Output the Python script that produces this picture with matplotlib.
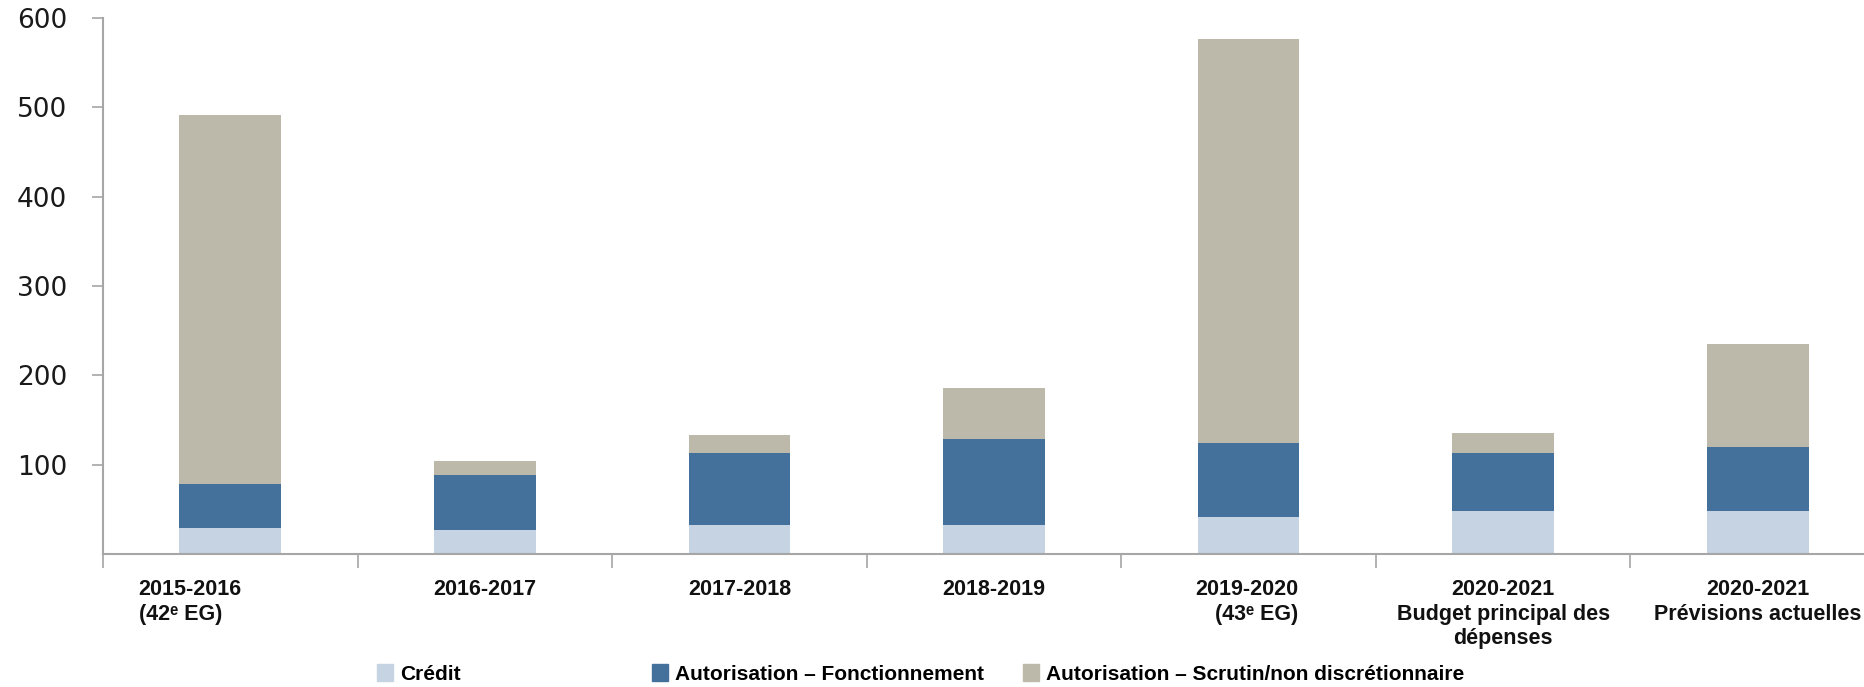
import matplotlib
matplotlib.use('Agg')
import matplotlib.pyplot as plt
import matplotlib.patches as mpatches
import matplotlib.transforms as mtransforms
import numpy as np

# données
categories = ['2015-2016\n(42ᵉ EG)', '2016-2017', '2017-2018', '2018-2019',
              '2019-2020\n(43ᵉ EG)', '2020-2021\nBudget principal des\ndépenses',
              '2020-2021\nPrévisions actuelles']
credit = [29, 27, 32, 32, 41, 48, 48]
fonctionnement = [49, 61, 81, 97, 83, 65, 72]
scrutin = [413, 16, 20, 57, 452, 23, 115]
series_names = ['Crédit', 'Autorisation – Fonctionnement',
                'Autorisation – Scrutin/non discrétionnaire']
yticks = [100, 200, 300, 400, 500, 600]

colors = ['#c5d3e2', '#44719b', '#bcb8aa']
label_font = ['Liberation Sans Narrow', 'Liberation Sans', 'DejaVu Sans']

W, H = 1864, 687
fig = plt.figure(figsize=(W / 100, H / 100), dpi=100)
ax = fig.add_axes([103 / W, 133 / H, 1782 / W, (669 - 133) / H])

x = np.arange(len(categories))
bottom = np.zeros(len(categories))
for vals, col in zip([credit, fonctionnement, scrutin], colors):
    ax.bar(x, vals, width=0.4, bottom=bottom, color=col, edgecolor='none')
    bottom += np.array(vals)

ax.set_xlim(-0.5, len(categories) - 0.5)
ax.set_ylim(0, 600)
ax.set_yticks(yticks)
ax.set_yticklabels([str(v) for v in yticks], fontsize=19, family='DejaVu Sans', color='#1a1a1a')
ax.set_xticks(np.arange(len(categories) + 1) - 0.5)
ax.set_xticklabels([])
ax.tick_params(axis='y', length=8, width=1.2, color='#a6a6a6', pad=18)
ax.tick_params(axis='x', length=10, width=1.2, color='#a6a6a6', direction='out')
for s in ['top', 'right']:
    ax.spines[s].set_visible(False)
for s in ['left', 'bottom']:
    ax.spines[s].set_color('#a6a6a6')
    ax.spines[s].set_linewidth(1.5)

# étiquettes de catégories
trans = mtransforms.blended_transform_factory(ax.transData, ax.transAxes)
label_pos = [(-0.36, 'left'), (1, 'center'), (2, 'center'), (3, 'center'),
             (4.196, 'right'), (5, 'center'), (6, 'center')]
for lab, (xp, ha) in zip(categories, label_pos):
    ax.annotate(lab, xy=(xp, 0), xycoords=trans, xytext=(0, -18),
                textcoords='offset points', ha=ha, va='top', multialignment=ha,
                fontsize=15.5, fontweight='bold', family=label_font,
                linespacing=1.22, color='#111111')

# légende
handle_x = [377, 652, 1023]
for name, col, hx in zip(series_names, colors, handle_x):
    h = mpatches.Patch(color=col)
    fig.legend([h], [name], loc='center left', bbox_to_anchor=(hx / W, 13 / H),
               frameon=False, borderpad=0, borderaxespad=0, handlelength=0.75,
               handleheight=0.85, handletextpad=0.35,
               prop={'family': label_font, 'weight': 'bold', 'size': 15})

fig.savefig('out.png', dpi=100, facecolor='white')
